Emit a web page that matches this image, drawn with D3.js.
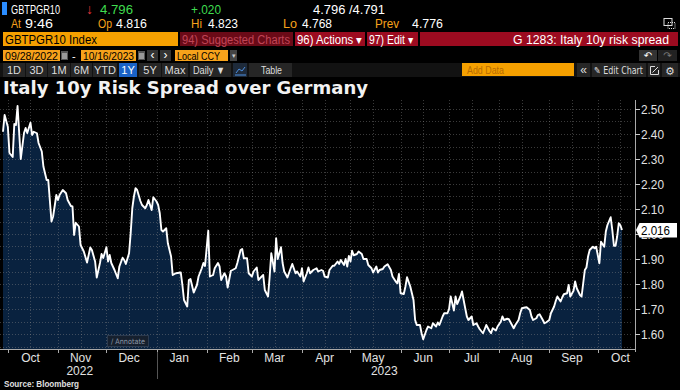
<!DOCTYPE html>
<html><head><meta charset="utf-8">
<script src="https://cdn.jsdelivr.net/npm/d3@7"></script>
<style>html,body{margin:0;padding:0;background:#000;overflow:hidden}svg{display:block}</style>
</head><body>
<svg id="c" width="680" height="390"></svg>
<script>
// ---------------- DATA ----------------
const startDate = "2022-09-28";
const endDate = "2023-10-16";
// days since startDate
const dayOffsets = [0,1,3,4,6,7,8,9,11,13,14,15,17,18,19,21,22,24,25,27,28,30,31,33,34,35,37,39,40,42,43,44,45,47,48,50,52,54,55,57,58,60,61,62,64,65,66,67,69,71,72,74,75,76,78,79,80,81,82,83,85,86,88,89,90,92,93,95,96,97,98,99,101,102,104,105,107,110,111,112,114,115,116,118,120,121,123,124,125,127,128,130,131,133,134,135,137,138,139,141,142,144,145,147,148,149,151,152,154,155,157,158,159,161,162,164,165,166,168,169,170,172,173,174,176,178,179,181,182,184,185,186,188,189,190,192,194,195,197,198,199,201,202,204,205,207,208,209,211,212,213,214,215,216,217,219,220,222,223,225,226,228,229,231,232,233,235,236,238,240,241,243,244,245,246,248,249,250,252,254,255,256,258,259,260,262,263,265,266,268,269,270,272,273,275,276,277,279,280,281,283,284,286,287,288,290,291,293,294,295,297,298,299,301,302,303,305,306,308,309,310,312,313,314,316,317,319,320,321,323,324,326,327,328,330,331,332,334,335,336,338,339,341,342,343,345,346,347,349,350,351,353,354,355,357,358,359,360,361,362,363,365,366,367,369,370,372,373,374,376,377,378,379,380,381,382,383];
const spread = [2.409,2.476,2.429,2.324,2.308,2.44,2.436,2.512,2.30,2.404,2.424,2.404,2.445,2.396,2.409,2.403,2.364,2.33,2.27,2.216,2.216,2.05,2.07,2.156,2.136,2.156,2.176,2.163,2.136,2.112,2.11,1.996,2.045,2.03,1.956,1.93,1.886,1.946,1.936,1.89,1.826,1.884,1.92,1.904,1.947,1.89,1.916,1.884,1.856,1.823,1.87,1.905,1.896,1.88,1.923,2.003,2.103,2.15,2.183,2.176,2.132,2.116,2.103,2.116,2.136,2.096,2.147,2.13,2.116,2.083,2.016,2.01,2.023,1.963,1.91,1.836,1.843,1.846,1.796,1.736,1.71,1.816,1.82,1.766,1.796,1.83,1.863,1.884,1.872,2.013,1.83,1.836,1.863,1.884,1.87,1.816,1.843,1.83,1.786,1.853,1.856,1.863,1.884,1.936,1.94,1.903,1.903,1.843,1.83,1.85,1.866,1.816,1.823,1.836,1.776,1.75,1.83,1.923,1.85,1.983,1.90,1.947,1.884,1.85,1.826,1.863,1.88,1.843,1.85,1.83,1.863,1.81,1.843,1.866,1.843,1.856,1.863,1.85,1.856,1.853,1.83,1.826,1.856,1.873,1.873,1.89,1.88,1.896,1.876,1.90,1.87,1.912,1.89,1.933,1.915,1.92,1.93,1.92,1.90,1.90,1.876,1.863,1.846,1.87,1.846,1.856,1.86,1.87,1.879,1.856,1.83,1.81,1.803,1.84,1.763,1.76,1.79,1.827,1.79,1.736,1.656,1.636,1.636,1.603,1.579,1.616,1.63,1.623,1.643,1.63,1.646,1.636,1.67,1.683,1.683,1.70,1.75,1.694,1.75,1.72,1.75,1.77,1.703,1.67,1.656,1.67,1.636,1.643,1.63,1.619,1.603,1.619,1.636,1.612,1.603,1.623,1.614,1.63,1.649,1.67,1.656,1.661,1.659,1.647,1.623,1.636,1.656,1.683,1.703,1.706,1.707,1.696,1.67,1.656,1.663,1.676,1.679,1.656,1.643,1.646,1.656,1.683,1.71,1.732,1.75,1.73,1.746,1.759,1.763,1.796,1.75,1.773,1.81,1.783,1.756,1.75,1.803,1.856,1.866,1.91,1.936,1.949,1.943,1.949,1.883,1.969,1.949,2.01,2.036,2.067,2.016,1.953,1.953,1.99,2.043,2.035,2.016];
const yTicks = [1.60,1.70,1.80,1.90,2.00,2.10,2.20,2.30,2.40,2.50];
const lastValue = 2.016;
const chartTitle = "Italy 10y Risk Spread over Germany";
const ticker = "GBTPGR10";
const quote = {last:"4.796", change:"+.020", bidAsk:"4.796 /4.791", time:"9:46", open:"4.816", high:"4.823", low:"4.768", prev:"4.776"};
const rangeButtons = ["1D","3D","1M","6M","YTD","1Y","5Y","Max"];

// ---------------- HELPERS ----------------
const UI = "'Liberation Sans', Arial, sans-serif";
const svg = d3.select("#c");
svg.append("rect").attr("width",680).attr("height",390).attr("fill","#000");
function T(g, x, y, s, o = {}) {
  const t = g.append("text").attr("x", x).attr("y", y).text(s)
    .attr("font-family", o.family || UI).attr("font-size", o.size || 12)
    .attr("font-weight", o.weight || "normal").attr("fill", o.fill || "#fff")
    .attr("text-anchor", o.anchor || "start");
  if (o.w) t.attr("textLength", o.w).attr("lengthAdjust", "spacingAndGlyphs");
  return t;
}
function R(g, x, y, w, h, fill, stroke) {
  const r = g.append("rect").attr("x", x).attr("y", y).attr("width", w).attr("height", h).attr("fill", fill);
  if (stroke) r.attr("stroke", stroke).attr("stroke-width", 1);
  return r;
}
const ORANGE = "#f7a21b", GREEN = "#3fdc4f", RED = "#9c0b20";

// ---------------- HEADER ----------------
const hd = svg.append("g");
R(hd, 2, 2, 5, 13, "#2a8cff");
T(hd, 11, 13.5, ticker, {w: 49, size: 13});
T(hd, 86, 14, "\u2193", {fill: "#e8353a", size: 14});
T(hd, 100, 13.5, quote.last, {fill: GREEN, w: 33, size: 13});
T(hd, 191, 13.5, quote.change, {fill: GREEN, w: 30, size: 13});
T(hd, 313, 13.5, quote.bidAsk, {w: 72, size: 13});
[["At",11,10],[null,25,28,quote.time],["Op",98,14],[null,116,31,quote.open],["Hi",191,11],[null,208,30,quote.high],
 ["Lo",283,14],[null,302,30,quote.low],["Prev",375,24],[null,412,31,quote.prev]].forEach(d => {
  if (d[0]) T(hd, d[1], 28, d[0], {fill: ORANGE, w: d[2], size: 13});
  else T(hd, d[1], 28, d[3], {w: d[2], size: 13});
});
// small window icon
R(hd, 664, 18.5, 8, 7, "none", "#ddd");
hd.append("rect").attr("x",668).attr("y",22.5).attr("width",7).attr("height",6).attr("fill","none").attr("stroke","#ddd").attr("stroke-dasharray","1,1");

// row 3
R(hd, 3, 32, 175, 14, "#f5a000");
T(hd, 5, 43.5, ticker + " Index", {fill: "#000", w: 92});
R(hd, 180, 32, 113, 14, "#6a0a17");
T(hd, 182, 43.5, "94) Suggested Charts", {fill: "#c04556", w: 108});
R(hd, 295, 32, 70, 14, RED);
T(hd, 297, 43.5, "96) Actions \u25BE", {w: 65});
R(hd, 367, 32, 51, 14, RED);
T(hd, 369, 43.5, "97) Edit \u25BE", {w: 44});
R(hd, 420, 32, 258, 14, RED);
T(hd, 669, 43.5, "G 1283: Italy 10y risk spread", {anchor: "end", w: 156});

// row 4
function cal(x) {
  R(hd, x, 51, 7, 9, "#555");
  R(hd, x + 1, 53, 5, 6, "#999");
}
R(hd, 3, 50, 57, 11, ORANGE);
T(hd, 5, 59.5, "09/28/2022", {fill: "#000", size: 11, w: 53});
cal(61);
T(hd, 72, 59.5, "-", {size: 11});
R(hd, 81, 50, 55, 11, ORANGE);
T(hd, 83, 59.5, "10/16/2023", {fill: "#000", size: 11, w: 51});
cal(138);
R(hd, 147, 50, 11, 11, "#333"); T(hd, 152.5, 59, "\u2039", {anchor: "middle", size: 12});
R(hd, 160, 50, 11, 11, "#333"); T(hd, 165.5, 59, "\u203A", {anchor: "middle", size: 12});
R(hd, 175, 50, 53, 11, ORANGE);
T(hd, 177, 59.5, "Local CCY", {fill: "#000", size: 11, w: 43});
R(hd, 230, 50, 7, 11, "#444"); T(hd, 233.5, 58, "\u25BE", {anchor: "middle", size: 7, fill: "#ccc"});
R(hd, 639, 50, 18, 11, "#333"); T(hd, 648, 59, "\u21B6", {anchor: "middle", size: 10, family: "DejaVu Sans"});
R(hd, 658, 50, 19, 11, "#222"); T(hd, 667.5, 59, "\u21B7", {anchor: "middle", size: 10, fill: "#777", family: "DejaVu Sans"});

// row 5
R(hd, 0, 63, 680, 14, "#121212");
const bx = [[3,25],[26,47],[48,70],[71,92],[93,117],[119,137],[139,161],[162,188]];
rangeButtons.forEach((b, i) => {
  const [a, e] = bx[i];
  R(hd, a, 63, e - a, 14, b === "1Y" ? "#1a62c6" : "#262626");
  T(hd, (a + e) / 2, 74, b, {anchor: "middle", size: 11, fill: b === "1Y" ? "#fff" : "#ddd"});
});
R(hd, 190, 63, 41, 14, "#262626"); T(hd, 193, 74, "Daily \u25BC", {size: 11, fill: "#ddd", w: 32});
R(hd, 233, 63, 14, 14, "#1e2a3a");
hd.append("path").attr("d", "M236 73 L239 69 L242 71 L245 67 M235 75 H246").attr("stroke", "#4d8fe0").attr("fill", "none").attr("stroke-width", 1);
R(hd, 249, 63, 43, 14, "#262626"); T(hd, 261, 74, "Table", {size: 11, fill: "#ddd", w: 21});
R(hd, 462, 63, 112, 13, "#f5a000");
T(hd, 467, 74, "Add Data", {size: 11, fill: "#b86c00", w: 37});
R(hd, 577, 63, 13, 14, "#262626"); T(hd, 583.5, 74, "\u00AB", {anchor: "middle", size: 12, fill: "#ddd"});
R(hd, 592, 63, 54, 14, "#262626"); T(hd, 594, 74, "\u270E Edit Chart", {size: 10, fill: "#ddd", w: 49, family: "DejaVu Sans"});
R(hd, 648, 63, 12, 14, "#262626");
hd.append("path").attr("d", "M650.5 66.5 H655 M650.5 66.5 V74.5 H658.5 V70 M652.5 72.5 L658 67").attr("stroke", "#ddd").attr("fill", "none").attr("stroke-width", 1);
R(hd, 662, 63, 16, 14, "#262626"); T(hd, 670, 74.5, "\u2699", {anchor: "middle", size: 11, fill: "#ddd", family: "DejaVu Sans"});

// title
T(svg, 3, 93.5, chartTitle, {family: "'DejaVu Sans', sans-serif", weight: "bold", size: 17.5, w: 365, fill: "#f2f2f2"});

// ---------------- CHART ----------------
const parse = d3.utcParse("%Y-%m-%d");
const t0 = parse(startDate), t1 = parse(endDate);
const data = dayOffsets.map((d, i) => ({date: d3.utcDay.offset(t0, d), v: spread[i]}));
const plot = {left: 0, right: 633, top: 100, bottom: 349};
const x = d3.scaleUtc().domain([t0, t1]).range([3, 622]);
const y = d3.scaleLinear().domain([1.60, 2.50]).range([334, 109]);

const cg = svg.append("g");
cg.append("path").datum(data)
  .attr("d", d3.area().x(d => x(d.date)).y0(plot.bottom).y1(d => y(d.v)))
  .attr("fill", "#09223f");

// grid
const grid = cg.append("g").attr("stroke", "#8a8a8a").attr("stroke-opacity", 0.42).attr("stroke-dasharray", "1,2").attr("stroke-width", 1);
d3.range(0, 21).map(i => 1.55 + i * 0.05).forEach(v => {
  const yy = Math.round(y(v)) + 0.5;
  if (yy > plot.top && yy < plot.bottom) grid.append("line").attr("x1", plot.left).attr("x2", plot.right).attr("y1", yy).attr("y2", yy);
});
const gridDates = [];
d3.utcMonth.range(d3.utcMonth.floor(t0), t1).forEach(m => { gridDates.push(m); gridDates.push(d3.utcDay.offset(m, 14)); });
gridDates.filter(d => d >= t0 && d <= t1).forEach(d => {
  const xx = Math.round(x(d)) + 0.5;
  grid.append("line").attr("x1", xx).attr("x2", xx).attr("y1", plot.top).attr("y2", plot.bottom);
});

cg.append("path").datum(data)
  .attr("d", d3.line().x(d => x(d.date)).y(d => y(d.v)))
  .attr("fill", "none").attr("stroke", "#fff").attr("stroke-width", 1.9).attr("stroke-linejoin", "round");

// annotate button
R(cg, 107.5, 335.5, 41, 11, "#16202e", "#2b3a4f");
T(cg, 111, 344, "\u2215 Annotate", {size: 7.5, fill: "#8e99aa", family: "'DejaVu Sans', sans-serif", w: 34});

// y axis
const ya = svg.append("g");
ya.append("line").attr("x1", 635.5).attr("x2", 635.5).attr("y1", plot.top).attr("y2", plot.bottom + 3).attr("stroke", "#aaa");
yTicks.forEach(v => {
  const yy = Math.round(y(v)) + 0.5;
  ya.append("line").attr("x1", 635).attr("x2", 640).attr("y1", yy).attr("y2", yy).attr("stroke", "#ccc");
  T(ya, 641, yy + 4.5, d3.format(".2f")(v), {size: 12, fill: "#e2e2e2", w: 23});
});
// last value tag (covers the 2.00 label, as in the original)
const ly = y(lastValue);
ya.append("path").attr("d", `M636 ${ly} L639.5 ${ly - 7} H677 V${ly + 7.5} H639.5 Z`).attr("fill", "#fff");
T(ya, 641, ly + 4.5, d3.format(".3f")(lastValue), {size: 12, fill: "#000", w: 29});

// x axis
const xa = svg.append("g");
xa.append("line").attr("x1", 0).attr("x2", 635).attr("y1", plot.bottom + 0.5).attr("y2", plot.bottom + 0.5).attr("stroke", "#aaa");
d3.utcMonth.range(d3.utcMonth.ceil(t0), t1).forEach(m => {
  const xx = Math.round(x(m)) + 0.5;
  xa.append("line").attr("x1", xx).attr("x2", xx).attr("y1", plot.bottom).attr("y2", plot.bottom + 4).attr("stroke", "#aaa");
});
const fmtM = d3.utcFormat("%b");
d3.utcMonth.range(d3.utcMonth.floor(t0), t1).forEach(m => {
  const mid = d3.utcDay.offset(m, 14);
  if (mid >= t0 && mid <= d3.utcDay.offset(t1, 1)) T(xa, x(mid), 362, fmtM(m), {anchor: "middle", size: 12, fill: "#e2e2e2"});
});
const yearStart = d3.utcYear.ceil(t0);
xa.append("line").attr("x1", Math.round(x(yearStart)) + 0.5).attr("x2", Math.round(x(yearStart)) + 0.5)
  .attr("y1", 352).attr("y2", 379).attr("stroke", "#555");
T(xa, (x(t0) + x(yearStart)) / 2, 375, d3.utcFormat("%Y")(t0), {anchor: "middle", size: 12, fill: "#e2e2e2"});
T(xa, (x(yearStart) + x(t1)) / 2 - 5, 375, d3.utcFormat("%Y")(t1), {anchor: "middle", size: 12, fill: "#e2e2e2"});

T(svg, 4, 387, "Source: Bloomberg", {size: 9, weight: "bold", fill: "#e0e0e0", w: 75});
</script>
</body></html>
